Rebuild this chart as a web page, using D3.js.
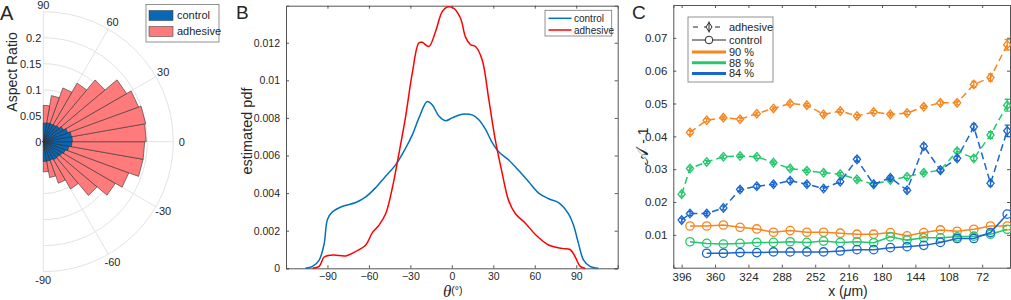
<!DOCTYPE html>
<html>
<head>
<meta charset="utf-8">
<script src="https://cdn.jsdelivr.net/npm/d3@7"></script>
<style>
body { margin: 0; background: #fff; }
text { font-family: "Liberation Sans", Arial, sans-serif; fill: #262626; }
</style>
</head>
<body>
<svg id="fig" width="1011" height="300"></svg>
<script>
// ---- panel A: rose histogram (bin centres in degrees) ----
const roseBins = [-85, -75, -65, -55, -45, -35, -25, -15, -5, 5, 15, 25, 35, 45, 55, 65, 75, 85];
const roseAdhesive = [0.058, 0.07, 0.085, 0.105, 0.135, 0.16, 0.175, 0.195, 0.195,
                      0.198, 0.2, 0.195, 0.185, 0.155, 0.13, 0.11, 0.09, 0.07];
const roseControl = [0.038, 0.038, 0.038, 0.04, 0.04, 0.042, 0.045, 0.05, 0.055,
                     0.056, 0.055, 0.05, 0.045, 0.04, 0.038, 0.037, 0.037, 0.036];
const roseRadTicks = [0, 0.05, 0.1, 0.15, 0.2];
const roseAngTicks = [-90, -60, -30, 0, 30, 60, 90];

// ---- panel B: kernel density estimates ----
const pdfControl = [
  [-106, 0], [-100.8, 0.0001], [-96, 0.00044], [-92.4, 0.0013], [-90, 0.0026], [-86.4, 0.003],
  [-79, 0.0033], [-69.5, 0.0035], [-62.3, 0.0038], [-55, 0.0043], [-47.9, 0.0049], [-40.7, 0.0055],
  [-33.4, 0.0064], [-28.6, 0.0071], [-23.8, 0.008], [-17.8, 0.00887], [-14.2, 0.0087], [-9.4, 0.0081],
  [-4.6, 0.00785], [0.2, 0.008], [7.5, 0.0082], [14.7, 0.00816], [19.5, 0.0079], [24.3, 0.0074],
  [29.1, 0.0067], [33.9, 0.0062], [41.1, 0.00576], [48.4, 0.0052], [55.6, 0.0046], [62.8, 0.004],
  [70, 0.0037], [77.2, 0.0035], [84.4, 0.0029], [88, 0.0023], [91.7, 0.0013], [95.3, 0.00044],
  [100, 0.0001], [106, 0]
];
const pdfAdhesive = [
  [-100.8, 0], [-96, 0.0001], [-92.4, 0.0006], [-87.6, 0.0007], [-84, 0.0007], [-76.7, 0.00066],
  [-69.5, 0.0009], [-62.3, 0.00124], [-57.5, 0.0019], [-52.7, 0.0023], [-47.9, 0.0029], [-43, 0.0043],
  [-38.3, 0.0061], [-33.4, 0.0081], [-28.6, 0.0104], [-23.8, 0.012], [-21.4, 0.01202], [-16.6, 0.0118],
  [-11.8, 0.0126], [-7, 0.01365], [-3.4, 0.0139], [1.4, 0.01383], [6.3, 0.0133], [9.9, 0.0123],
  [13.5, 0.0119], [17.1, 0.0118], [21.9, 0.0111], [26.7, 0.009], [31.5, 0.0068], [36.3, 0.0051],
  [41.1, 0.0036], [46, 0.0029], [53.2, 0.0024], [60.4, 0.0018], [70, 0.00124], [79.6, 0.00106],
  [85.6, 0.001], [89.3, 0.0006], [92.9, 0.0001], [96.5, 0]
];
const pdfXTicks = [-90, -60, -30, 0, 30, 60, 90];
const pdfYTicks = [0, 0.002, 0.004, 0.006, 0.008, 0.01, 0.012];

// ---- panel C: anisotropy vs position ----
const xPos = [396, 387, 369, 351, 333, 315, 297, 279, 261, 243, 225, 207, 189, 171, 153, 135, 117, 99, 81, 63, 45];
const adh90 = [null, 0.0412, 0.0449, 0.0457, 0.0452, 0.0469, 0.0485, 0.05, 0.0495, 0.0467, 0.0477,
               0.0462, 0.0474, 0.0467, 0.0471, 0.049, 0.0502, 0.0502, 0.0558, 0.0579, 0.0679];
const adh88 = [0.0224, 0.0302, 0.0322, 0.0338, 0.034, 0.0338, 0.032, 0.0302, 0.0295, 0.0289, 0.0285,
               0.0269, 0.0254, 0.0267, 0.0277, 0.0289, 0.0297, 0.0355, 0.0333, 0.0404, 0.0495];
const adh84 = [0.0145, 0.0165, 0.0165, 0.0182, 0.0238, 0.0248, 0.0254, 0.0265, 0.0254, 0.0241, 0.0262,
               0.033, 0.0254, 0.0274, 0.0236, 0.037, 0.0297, 0.0333, 0.0429, 0.0257, 0.0417];
const err90 = [0, 0.0006, 0.0005, 0.0005, 0.0005, 0.0005, 0.0005, 0.0005, 0.0005, 0.0005, 0.0005,
               0.0005, 0.0005, 0.0005, 0.0005, 0.0005, 0.0006, 0.0006, 0.0009, 0.0011, 0.0016];
const err88 = [0.0006, 0.0005, 0.0005, 0.0005, 0.0005, 0.0005, 0.0005, 0.0005, 0.0005, 0.0005, 0.0005,
               0.0005, 0.0005, 0.0005, 0.0005, 0.0005, 0.0006, 0.0007, 0.0007, 0.001, 0.0018];
const err84 = [0.0006, 0.0006, 0.0006, 0.0006, 0.0006, 0.0006, 0.0006, 0.0006, 0.0006, 0.0006, 0.0006,
               0.0007, 0.0006, 0.0006, 0.0006, 0.0007, 0.0006, 0.0007, 0.0009, 0.0008, 0.0017];
const ctl90 = [null, 0.0127, 0.0127, 0.013, 0.0123, 0.0118, 0.0108, 0.0113, 0.0108, 0.0108, 0.0105,
               0.0102, 0.0102, 0.0107, 0.0097, 0.0107, 0.0115, 0.0111, 0.0117, 0.0127, 0.0127];
const ctl88 = [null, 0.0079, 0.0074, 0.0072, 0.0074, 0.0077, 0.0077, 0.0079, 0.0077, 0.0081, 0.0077,
               0.0079, 0.0076, 0.0094, 0.0084, 0.0091, 0.0091, 0.0094, 0.0096, 0.0102, 0.0117];
const ctl84 = [null, null, 0.0044, 0.0044, 0.0046, 0.0046, 0.0048, 0.0048, 0.0048, 0.0048, 0.0051,
               0.0055, 0.0055, 0.0061, 0.0064, 0.0068, 0.0077, 0.0089, 0.0089, 0.0107, 0.0163];
const anisoXTicks = [396, 360, 324, 288, 252, 216, 180, 144, 108, 72];
const anisoYTicks = [0.01, 0.02, 0.03, 0.04, 0.05, 0.06, 0.07];
const levelNames = ["90 %", "88 %", "84 %"];
const levelColors = ["#f7861f", "#25c86c", "#1a66d0"];

const svg = d3.select("#fig");
const axisColor = "#555";

// =================== A ===================
const gA = svg.append("g");
const cx = 43.3, cy = 141.7;
const r = d3.scaleLinear().domain([0, 0.25]).range([0, 130]);
const rad = d => d * Math.PI / 180;
const pt = (val, deg) => [cx + r(val) * Math.cos(rad(deg)), cy - r(val) * Math.sin(rad(deg))];

// grid circles (right half)
[0.05, 0.1, 0.15, 0.2, 0.25].forEach(v => {
  const p = d3.path();
  p.arc(cx, cy, r(v), -Math.PI / 2, Math.PI / 2);
  gA.append("path").attr("d", p.toString()).attr("fill", "none")
    .attr("stroke", "#e3e3e3").attr("stroke-width", 1);
});
roseAngTicks.forEach(a => {
  const [x2, y2] = pt(0.25, a);
  gA.append("line").attr("x1", cx).attr("y1", cy).attr("x2", x2).attr("y2", y2)
    .attr("stroke", "#e3e3e3").attr("stroke-width", 1);
  const [tx, ty] = pt(0.25 * 1.065, a);
  gA.append("text").attr("x", tx).attr("y", ty + 4 + (a === 90 ? 2 : 0)).attr("text-anchor", "middle")
    .attr("font-size", 11).text(a);
});

function wedges(vals, fill) {
  gA.append("g").selectAll("path").data(vals).join("path")
    .attr("d", (v, i) => {
      const a0 = roseBins[i] - 5, a1 = roseBins[i] + 5;
      return d3.line()([[cx, cy], pt(v, a0), pt(v, a1)]) + "Z";
    })
    .attr("fill", fill).attr("stroke", "#333").attr("stroke-width", 0.6);
}
wedges(roseAdhesive, "#ff7b7b");
wedges(roseControl, "#0867b7");

roseRadTicks.forEach(v => {
  gA.append("text").attr("x", cx - 2).attr("y", cy - r(v) + 4).attr("text-anchor", "end")
    .attr("font-size", 11).text(v);
});
gA.append("text").attr("transform", "translate(17,72) rotate(-90)").attr("text-anchor", "middle")
  .attr("font-size", 14).text("Aspect Ratio");
gA.append("text").attr("x", 0).attr("y", 19.5).attr("font-size", 20).text("A");

// legend A
gA.append("rect").attr("x", 146).attr("y", 4.5).attr("width", 73).attr("height", 37.5)
  .attr("fill", "#fff").attr("stroke", "#777").attr("stroke-width", 0.8);
[["control", "#0867b7"], ["adhesive", "#ff7b7b"]].forEach(([name, col], i) => {
  gA.append("rect").attr("x", 149).attr("y", 10.5 + i * 16).attr("width", 24).attr("height", 10)
    .attr("fill", col).attr("stroke", "#333").attr("stroke-width", 0.5);
  gA.append("text").attr("x", 177).attr("y", 19 + i * 16).attr("font-size", 11).text(name);
});

// =================== B ===================
const gB = svg.append("g");
const bL = 286, bR = 617.7, bT = 5.7, bB = 268.3;
const xB = d3.scaleLinear().domain([-120, 120]).range([bL, bR]);
const yB = d3.scaleLinear().domain([0, 0.01397]).range([bB, bT]);

gB.append("g").attr("transform", `translate(0,${bB})`)
  .call(d3.axisBottom(xB).tickValues(pdfXTicks).tickSize(-3).tickPadding(4).tickFormat(d3.format("d")));
gB.append("g").attr("transform", `translate(${bL},0)`)
  .call(d3.axisLeft(yB).tickValues(pdfYTicks).tickSize(-3).tickPadding(6).tickFormat(d => +d.toFixed(3)));
gB.append("g").attr("transform", `translate(0,${bT})`)
  .call(d3.axisTop(xB).tickValues(pdfXTicks).tickSize(-3).tickFormat(""));
gB.append("g").attr("transform", `translate(${bR},0)`)
  .call(d3.axisRight(yB).tickValues(pdfYTicks).tickSize(-3).tickFormat(""));
gB.selectAll(".domain, .tick line").attr("stroke", axisColor);
gB.selectAll(".tick text").attr("font-size", 10.5).attr("fill", "#262626")
  .attr("font-family", "Liberation Sans, Arial, sans-serif");

const lineB = d3.line().x(d => xB(d[0])).y(d => yB(d[1])).curve(d3.curveCatmullRom.alpha(0.5));
gB.append("path").datum(pdfControl).attr("d", lineB).attr("fill", "none")
  .attr("stroke", "#0072bd").attr("stroke-width", 1.5);
gB.append("path").datum(pdfAdhesive).attr("d", lineB).attr("fill", "none")
  .attr("stroke", "#ff0000").attr("stroke-width", 1.5);

gB.append("text").attr("transform", "translate(252,131) rotate(-90)").attr("text-anchor", "middle")
  .attr("font-size", 14.5).text("estimated pdf");
const thl = gB.append("text").attr("x", 443).attr("y", 296.5);
thl.append("tspan").attr("font-family", "Liberation Serif, serif").attr("font-style", "italic")
  .attr("font-size", 17).text("θ");
thl.append("tspan").attr("font-size", 10.5).attr("dy", -3).text("(°)");
gB.append("text").attr("x", 236).attr("y", 19.3).attr("font-size", 19).text("B");

// legend B
gB.append("rect").attr("x", 545).attr("y", 10.3).attr("width", 66.7).attr("height", 25.7)
  .attr("fill", "#fff").attr("stroke", "#777").attr("stroke-width", 0.8);
[["control", "#0072bd"], ["adhesive", "#ff0000"]].forEach(([name, col], i) => {
  gB.append("line").attr("x1", 548.5).attr("x2", 571.5).attr("y1", 18.3 + i * 11.7).attr("y2", 18.3 + i * 11.7)
    .attr("stroke", col).attr("stroke-width", 1.5);
  gB.append("text").attr("x", 574).attr("y", 21.8 + i * 11.7).attr("font-size", 10).text(name);
});

// =================== C ===================
const gC = svg.append("g");
const cL = 673.3, cR = 1010, cT = 5, cB = 267.7;
const xC = d3.scaleLinear().domain([405, 42]).range([cL, cR]);
const yC = d3.scaleLinear().domain([0, 0.08]).range([cB, cT]);

gC.append("g").attr("transform", `translate(0,${cB})`)
  .call(d3.axisBottom(xC).tickValues(anisoXTicks).tickSize(-3).tickPadding(5).tickFormat(d3.format("d")));
gC.append("g").attr("transform", `translate(${cL},0)`)
  .call(d3.axisLeft(yC).tickValues(anisoYTicks).tickSize(-3).tickPadding(6).tickFormat(d => +d.toFixed(2)));
gC.append("g").attr("transform", `translate(0,${cT})`)
  .call(d3.axisTop(xC).tickValues(anisoXTicks).tickSize(-3).tickFormat(""));
gC.append("g").attr("transform", `translate(${cR},0)`)
  .call(d3.axisRight(yC).tickValues(anisoYTicks).tickSize(-3).tickFormat(""));
gC.selectAll(".domain, .tick line").attr("stroke", axisColor);
gC.selectAll(".tick text").attr("font-size", 11.5).attr("fill", "#262626")
  .attr("font-family", "Liberation Sans, Arial, sans-serif");

const lineC = d3.line().defined(d => d[1] != null).x(d => xC(d[0])).y(d => yC(d[1]));
const ctlSeries = [ctl90, ctl88, ctl84];
const adhSeries = [adh90, adh88, adh84];
const errSeries = [err90, err88, err84];

ctlSeries.forEach((s, k) => {
  const pts = xPos.map((x, i) => [x, s[i]]);
  gC.append("path").datum(pts).attr("d", lineC).attr("fill", "none")
    .attr("stroke", levelColors[k]).attr("stroke-width", 1.5);
  gC.append("g").selectAll("circle").data(pts.filter(d => d[1] != null)).join("circle")
    .attr("cx", d => xC(d[0])).attr("cy", d => yC(d[1])).attr("r", 4.2)
    .attr("fill", "none").attr("stroke", levelColors[k]).attr("stroke-width", 1.3);
});

adhSeries.forEach((s, k) => {
  const pts = xPos.map((x, i) => [x, s[i], errSeries[k][i]]);
  const col = levelColors[k];
  gC.append("path").datum(pts).attr("d", lineC).attr("fill", "none")
    .attr("stroke", col).attr("stroke-width", 1.5).attr("stroke-dasharray", "7,4");
  const valid = pts.filter(d => d[1] != null);
  const g = gC.append("g").attr("stroke", col).attr("stroke-width", 1.3).attr("fill", "none");
  g.selectAll("path.eb").data(valid).join("path").attr("class", "eb")
    .attr("d", d => {
      const x = xC(d[0]), y0 = yC(d[1] - d[2]), y1 = yC(d[1] + d[2]);
      return `M${x},${y0}V${y1}M${x - 2.5},${y0}H${x + 2.5}M${x - 2.5},${y1}H${x + 2.5}`;
    });
  g.selectAll("path.dm").data(valid).join("path").attr("class", "dm")
    .attr("d", d => {
      const x = xC(d[0]), y = yC(d[1]);
      return `M${x},${y - 4.3}L${x + 3.6},${y}L${x},${y + 4.3}L${x - 3.6},${y}Z`;
    });
});

// axis labels C
const yl = gC.append("text").attr("transform", "translate(648,146) rotate(-90)").attr("text-anchor", "middle")
  .attr("font-size", 14);
yl.append("tspan").attr("font-size", 18).text("𝒜");
yl.append("tspan").text(" - 1");
const xl = gC.append("text").attr("x", 848).attr("y", 296).attr("text-anchor", "middle").attr("font-size", 14);
xl.append("tspan").text("x (");
xl.append("tspan").attr("font-style", "italic").text("μ");
xl.append("tspan").text("m)");
gC.append("text").attr("x", 632).attr("y", 19.3).attr("font-size", 19).text("C");

// legend C
gC.append("rect").attr("x", 688).attr("y", 17).attr("width", 85).attr("height", 65)
  .attr("fill", "#fff").attr("stroke", "#777").attr("stroke-width", 0.8);
const lx0 = 692, lx1 = 726, ltx = 729;
// adhesive entry
gC.append("line").attr("x1", lx0).attr("x2", lx1).attr("y1", 27).attr("y2", 27)
  .attr("stroke", "#262626").attr("stroke-width", 1).attr("stroke-dasharray", "5,6").attr("stroke-dashoffset", -1);
gC.append("path").attr("d", `M709,22.5L712,27L709,31.5L706,27ZM709,21.5V32.5`)
  .attr("fill", "#fff").attr("stroke", "#262626").attr("stroke-width", 1);
gC.append("text").attr("x", ltx).attr("y", 31).attr("font-size", 11).text("adhesive");
// control entry
gC.append("line").attr("x1", lx0).attr("x2", lx1).attr("y1", 40).attr("y2", 40)
  .attr("stroke", "#262626").attr("stroke-width", 1);
gC.append("circle").attr("cx", 709).attr("cy", 40).attr("r", 3.8)
  .attr("fill", "#fff").attr("stroke", "#262626").attr("stroke-width", 1);
gC.append("text").attr("x", ltx).attr("y", 44).attr("font-size", 11).text("control");
levelNames.forEach((n, k) => {
  const y = 52 + k * 10.7;
  gC.append("line").attr("x1", lx0).attr("x2", lx1).attr("y1", y).attr("y2", y)
    .attr("stroke", levelColors[k]).attr("stroke-width", 3);
  gC.append("text").attr("x", ltx).attr("y", y + 4).attr("font-size", 11).text(n);
});
</script>
</body>
</html>
